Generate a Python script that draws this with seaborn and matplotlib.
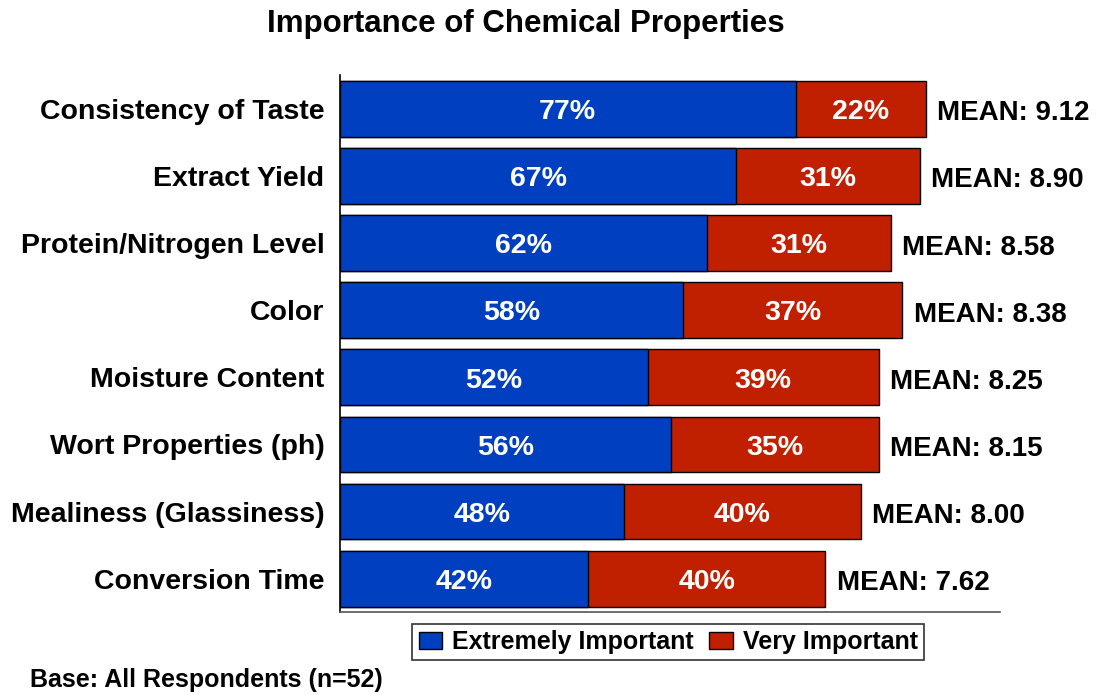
import pandas as pd
import matplotlib.pyplot as plt
import seaborn as sns

properties = [
    "Consistency of Taste",
    "Extract Yield",
    "Protein/Nitrogen Level",
    "Color",
    "Moisture Content",
    "Wort Properties (ph)",
    "Mealiness (Glassiness)",
    "Conversion Time",
]
extremely = [77, 67, 62, 58, 52, 56, 48, 42]
very = [22, 31, 31, 37, 39, 35, 40, 40]
means = [9.12, 8.90, 8.58, 8.38, 8.25, 8.15, 8.00, 7.62]

BLUE = "#0040C0"
RED = "#C02000"

sns.set_theme(style="white")
plt.rcParams["font.family"] = ["Liberation Sans", "DejaVu Sans"]
plt.rcParams["font.weight"] = "bold"
plt.rcParams["text.color"] = "black"
plt.rcParams["ytick.color"] = "black"

df = pd.DataFrame({"property": properties, "extremely": extremely, "very": very, "mean": means})
df["total"] = df["extremely"] + df["very"]

fig = plt.figure(figsize=(10.99, 6.95), dpi=100)
ax = fig.add_axes([0.309, 0.119, 0.601, 0.773])

# stacked: total in red underneath, extremely in blue on top
sns.barplot(data=df, x="total", y="property", color=RED, saturation=1,
            edgecolor="black", linewidth=1, width=0.83, ax=ax)
sns.barplot(data=df, x="extremely", y="property", color=BLUE, saturation=1,
            edgecolor="black", linewidth=1, width=0.83, ax=ax)

for i, row in df.iterrows():
    ax.text(row["extremely"] / 2, i + 0.05, f"{row['extremely']}%", ha="center", va="center",
            color="white", fontsize=20.5, fontweight="bold")
    ax.text(row["extremely"] + row["very"] / 2, i + 0.05, f"{row['very']}%", ha="center",
            va="center", color="white", fontsize=20.5, fontweight="bold")
    ax.text(row["total"] + 1.9, i + 0.07, f"MEAN: {row['mean']:.2f}", ha="left", va="center",
            color="black", fontsize=20, fontweight="bold")

ax.set_xlim(0, 111.5)
ax.set_ylim(7.5, -0.5)
ax.set_xlabel("")
ax.set_ylabel("")
ax.set_xticks([])
ax.tick_params(axis="y", length=0, pad=11, labelsize=20.5)
for lbl in ax.get_yticklabels():
    lbl.set_fontweight("bold")

for s in ["top", "right"]:
    ax.spines[s].set_visible(False)
ax.spines["left"].set_color("black")
ax.spines["left"].set_linewidth(1.2)
ax.spines["bottom"].set_color("#555555")
ax.spines["bottom"].set_linewidth(1.2)

handles = [plt.Rectangle((0, 0), 1, 1, facecolor=BLUE, edgecolor="black"),
           plt.Rectangle((0, 0), 1, 1, facecolor=RED, edgecolor="black")]
leg = fig.legend(handles, ["Extremely Important", "Very Important"], loc="center",
                 bbox_to_anchor=(0.608, 0.076), ncol=2, frameon=True, fancybox=False,
                 fontsize=18, handlelength=0.95, handleheight=0.7, handletextpad=0.4,
                 columnspacing=0.6, borderpad=0.25, borderaxespad=0)
leg.get_frame().set_edgecolor("black")
leg.get_frame().set_linewidth(1.2)
for t in leg.get_texts():
    t.set_fontweight("bold")
    t.set_color("black")

fig.text(0.478, 0.965, "Importance of Chemical Properties", ha="center", va="center",
         fontsize=22.5, fontweight="bold")
fig.text(0.027, 0.021, "Base: All Respondents (n=52)", ha="left", va="center",
         fontsize=18, fontweight="bold")

fig.savefig("out.png", dpi=100)
